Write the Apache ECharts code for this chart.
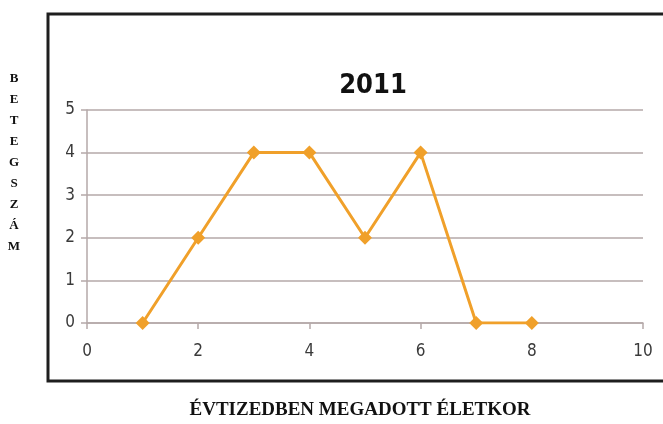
<!DOCTYPE html>
<html>
<head>
<meta charset="utf-8">
<script src="https://cdn.jsdelivr.net/npm/echarts@6/dist/echarts.min.js"></script>
<style>
  html, body { margin: 0; padding: 0; background: #fff; }
  #chart { width: 663px; height: 424px; }
</style>
</head>
<body>
<div id="chart"></div>
<script>
// Age in decades vs. number of patients, 2011
const titleText = '2011';
const ageDecades = [1, 2, 3, 4, 5, 6, 7, 8];
const patientCounts = [0, 2, 4, 4, 2, 4, 0, 0];
const xTicks = [0, 2, 4, 6, 8, 10];
const yTicks = [0, 1, 2, 3, 4, 5];
const yAxisTitle = 'BETEGSZÁM';
const xAxisTitle = 'ÉVTIZEDBEN MEGADOTT ÉLETKOR';

const points = ageDecades.map((x, i) => [x, patientCounts[i]]);

const gridColor = '#b5a9a9';
const labelColor = '#3a3a3a';
const lineColor = '#f0a02a';
const sansFont = '"DejaVu Sans Condensed", "Liberation Sans Narrow", sans-serif';
const serifFont = '"Liberation Serif", "DejaVu Serif", serif';

const chart = echarts.init(document.getElementById('chart'));
chart.setOption({
  animation: false,
  backgroundColor: '#ffffff',
  title: {
    text: titleText,
    left: 368,
    top: 67,
    textAlign: 'center',
    textStyle: {
      fontFamily: sansFont,
      fontWeight: 'bold',
      fontSize: 27,
      color: '#111'
    }
  },
  grid: { left: 87, right: 20, top: 110, bottom: 101, containLabel: false },
  xAxis: {
    type: 'value',
    min: xTicks[0],
    max: xTicks[xTicks.length - 1],
    interval: xTicks[1] - xTicks[0],
    axisLine: { show: true, lineStyle: { color: gridColor, width: 1.5 } },
    axisTick: { show: true, length: 6, lineStyle: { color: gridColor, width: 1.5 } },
    splitLine: { show: false },
    axisLabel: {
      color: labelColor,
      fontSize: 17,
      margin: 20,
      fontFamily: sansFont
    }
  },
  yAxis: {
    type: 'value',
    min: yTicks[0],
    max: yTicks[yTicks.length - 1],
    interval: yTicks[1] - yTicks[0],
    axisLine: { show: true, lineStyle: { color: gridColor, width: 1.5 } },
    axisTick: { show: true, length: 6, lineStyle: { color: gridColor, width: 1.5 } },
    splitLine: { show: true, lineStyle: { color: gridColor, width: 1.5 } },
    axisLabel: {
      color: labelColor,
      fontSize: 17,
      margin: 12,
      fontFamily: sansFont
    }
  },
  series: [{
    type: 'line',
    data: points,
    symbol: 'diamond',
    symbolSize: 14,
    lineStyle: { color: lineColor, width: 3 },
    itemStyle: { color: lineColor },
    z: 3
  }],
  graphic: [
    {
      type: 'rect',
      shape: { x: 48, y: 14, width: 630, height: 367 },
      style: { fill: 'none', stroke: '#1e1e1e', lineWidth: 3 },
      silent: true,
      z: 10
    },
    {
      type: 'text',
      x: 14,
      y: 163,
      style: {
        text: yAxisTitle.split('').join('\n'),
        fontFamily: serifFont,
        fontWeight: 'bold',
        fontSize: 13,
        lineHeight: 21,
        fill: '#111',
        textAlign: 'center',
        textVerticalAlign: 'middle'
      }
    },
    {
      type: 'text',
      x: 360,
      y: 410,
      style: {
        text: xAxisTitle,
        fontFamily: serifFont,
        fontWeight: 'bold',
        fontSize: 19,
        fill: '#111',
        textAlign: 'center',
        textVerticalAlign: 'middle'
      }
    }
  ]
});
</script>
</body>
</html>
